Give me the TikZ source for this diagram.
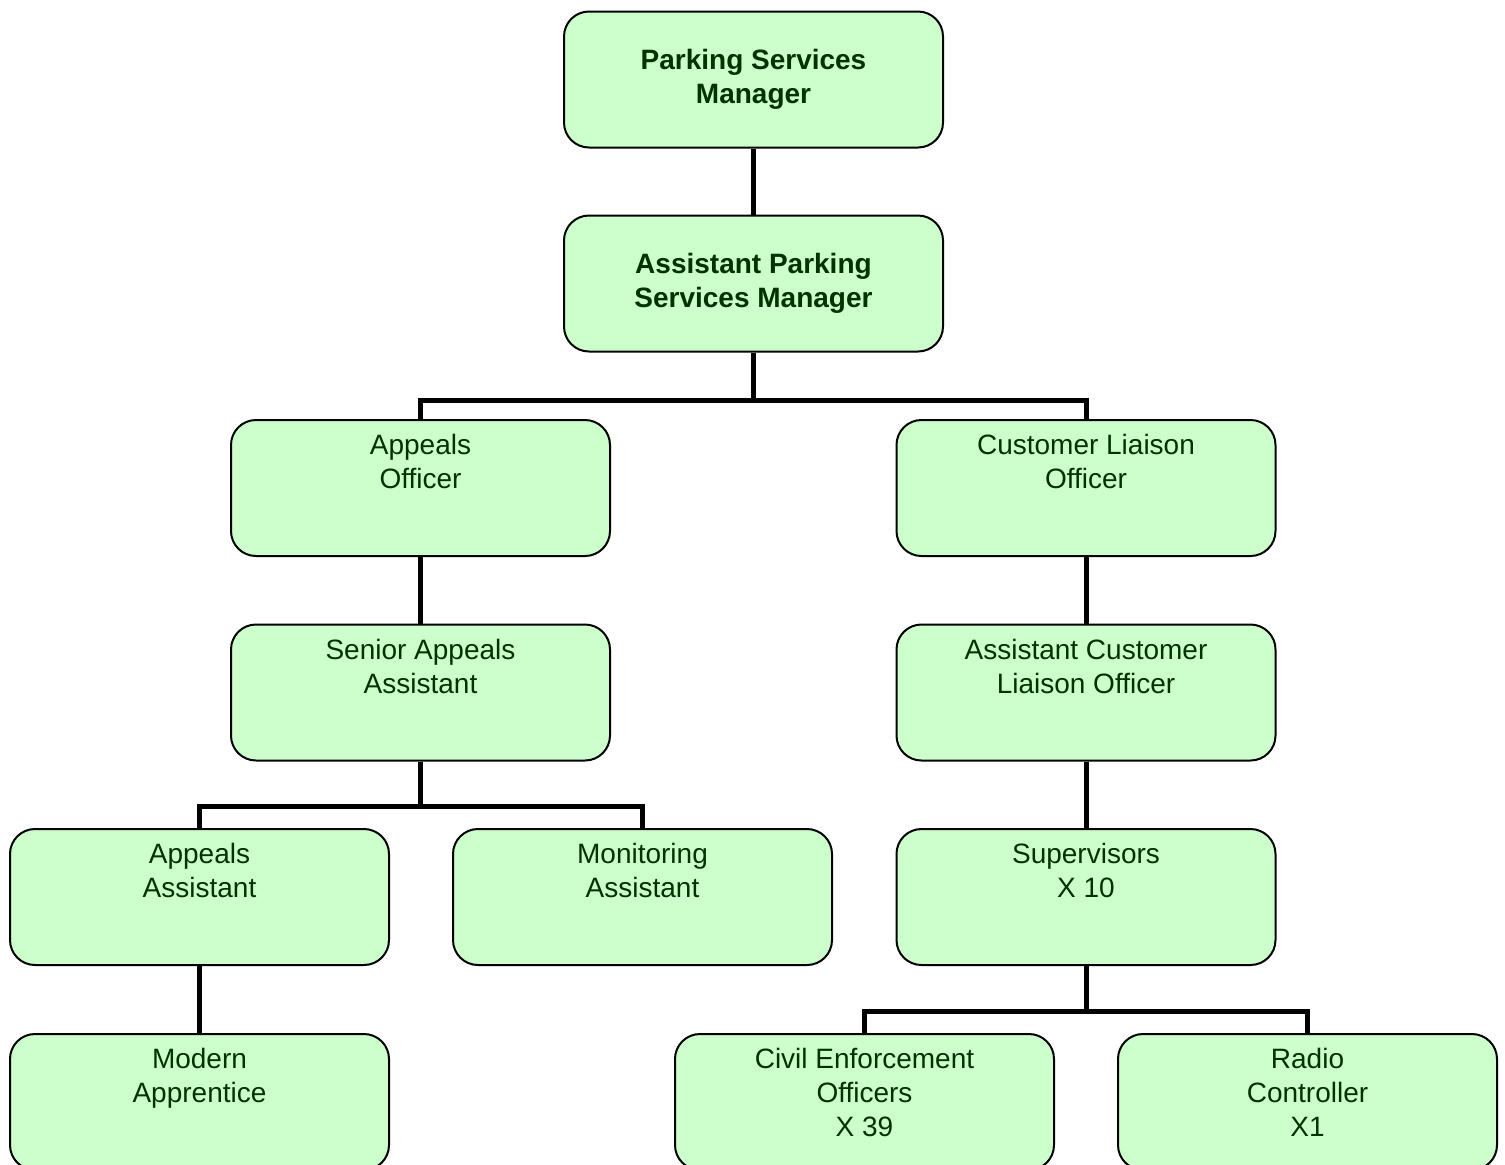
\documentclass[tikz,border=0pt]{standalone}
\usepackage{fontspec}
\setmainfont{Liberation Sans}
\definecolor{boxfill}{HTML}{CCFFCC}
\definecolor{boxtext}{HTML}{003300}
\begin{document}
\begin{tikzpicture}[x=0.5pt,y=-0.5pt,
  box/.style={draw=black,line width=1pt,fill=boxfill,rounded corners=12.5pt,
    minimum width=189.5pt,minimum height=68pt,inner sep=0pt,
    text=boxtext,align=center,font=\fontsize{14}{17}\selectfont},
  topbox/.style={box,font=\fontsize{14}{17}\selectfont\bfseries},
  lbl/.style={anchor=north,inner sep=0pt,text=boxtext,align=center,
    font=\fontsize{14}{17}\selectfont},
  conn/.style={line width=2.5pt,line join=miter,draw=black}]
\useasboundingbox (0,0) rectangle (1505,1164);
% nodes
\node[topbox] (psm) at (753.5,79.5) {Parking Services\\Manager};
\node[topbox] (apsm) at (753.5,283.5) {Assistant Parking\\Services Manager};
\node[box] (ao) at (420.5,488) {};
\node[box] (clo) at (1086,488) {};
\node[box] (saa) at (420.5,692.5) {};
\node[box] (aclo) at (1086,692.5) {};
\node[box] (aa) at (199.5,897) {};
\node[box] (ma) at (642.5,897) {};
\node[box] (sup) at (1086,897) {};
\node[box] (mapp) at (199.5,1102) {};
\node[box] (ceo) at (864.5,1102) {};
\node[box] (rc) at (1307.5,1102) {};
% labels
\node[lbl] (aot) at ([yshift=-7.5pt]ao.north) {Appeals\\Officer};
\node[lbl] (clot) at ([yshift=-7.5pt]clo.north) {Customer Liaison\\Officer};
\node[lbl] (saat) at ([yshift=-7.5pt]saa.north) {Senior Appeals\\Assistant};
\node[lbl] (aclot) at ([yshift=-7.5pt]aclo.north) {Assistant Customer\\Liaison Officer};
\node[lbl] (aat) at ([yshift=-7.5pt]aa.north) {Appeals\\Assistant};
\node[lbl] (mat) at ([yshift=-7.5pt]ma.north) {Monitoring\\Assistant};
\node[lbl] (supt) at ([yshift=-7.5pt]sup.north) {Supervisors\\X 10};
\node[lbl] (mappt) at ([yshift=-7.5pt]mapp.north) {Modern\\Apprentice};
\node[lbl] (ceot) at ([yshift=-7.5pt]ceo.north) {Civil Enforcement\\Officers\\X 39};
\node[lbl] (rct) at ([yshift=-7.5pt]rc.north) {Radio\\Controller\\X1};
% junctions
\coordinate (j1) at (753.5,400);
\coordinate (j2) at (420.5,806);
\coordinate (j3) at (1086,1011);
% connectors
\draw[conn] (psm.south) -- (apsm.north);
\draw[conn] (apsm.south) -- (j1);
\draw[conn] (ao.north) |- (j1) -| (clo.north);
\draw[conn] (ao.south) -- (saa.north);
\draw[conn] (clo.south) -- (aclo.north);
\draw[conn] (aclo.south) -- (sup.north);
\draw[conn] (saa.south) -- (j2);
\draw[conn] (aa.north) |- (j2) -| (ma.north);
\draw[conn] (aa.south) -- (mapp.north);
\draw[conn] (sup.south) -- (j3);
\draw[conn] (ceo.north) |- (j3) -| (rc.north);
\end{tikzpicture}
\end{document}
